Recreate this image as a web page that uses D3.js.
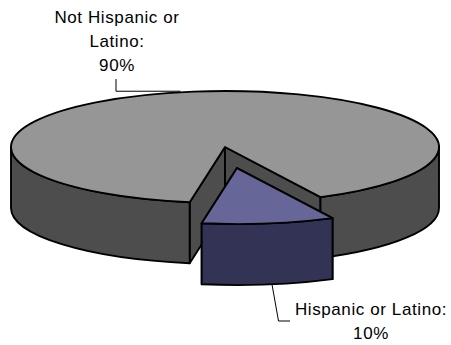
<!DOCTYPE html>
<html>
<head>
<meta charset="utf-8">
<script src="https://cdn.jsdelivr.net/npm/d3@7"></script>
<style>
  html, body { margin: 0; padding: 0; background: #fff; }
  svg { display: block; }
  text { font-family: Arial, "Liberation Sans", sans-serif; font-size: 17px; letter-spacing: 0.6px; fill: #000; }
</style>
</head>
<body>
<svg id="chart" width="451" height="345"></svg>
<script>
// ---- data ----
const categories = ["Hispanic or Latino", "Not Hispanic or Latino"];
const values = [10, 90];
const labelLines = [["Hispanic or Latino:", "10%"], ["Not Hispanic or", "Latino:", "90%"]];
const topColors = ["#666699", "#969696"];
const sideColors = ["#333355", "#4d4d4d"];
const explodeFrac = [0.38, 0];

// ---- layout ----
const W = 451, H = 345;
const cx = 225, cy = 147, rx = 214, ry = 56, depth = 61;
const rotation = 153.5 * Math.PI / 180; // pie start angle (from 12 o'clock)

const svg = d3.select("#chart");
const pie = d3.pie().sort(null).value(d => d.value)
  .startAngle(rotation).endAngle(rotation + 2 * Math.PI);
const data = categories.map((c, i) => ({ name: c, value: values[i], i }));
const arcs = pie(data);

function P(ox, oy, t, dz = 0) { return [ox + rx * Math.cos(t), oy + ry * Math.sin(t) + dz]; }

function topPath(ox, oy, t0, t1) {
  const p = d3.path();
  const a = P(ox, oy, t0), b = P(ox, oy, t1);
  p.moveTo(ox, oy); p.lineTo(a[0], a[1]);
  const large = (t1 - t0) > Math.PI ? 1 : 0;
  return p.toString() + `A${rx},${ry} 0 ${large} 1 ${b[0]},${b[1]}Z`;
}
function wallPath(ox, oy, a, b) {
  const A = P(ox, oy, a), B = P(ox, oy, b), Bd = P(ox, oy, b, depth), Ad = P(ox, oy, a, depth);
  const large = (b - a) > Math.PI ? 1 : 0;
  return `M${A[0]},${A[1]}A${rx},${ry} 0 ${large} 1 ${B[0]},${B[1]}L${Bd[0]},${Bd[1]}` +
         `A${rx},${ry} 0 ${large} 0 ${Ad[0]},${Ad[1]}Z`;
}
function facePath(ox, oy, t) {
  const p = P(ox, oy, t), pd = P(ox, oy, t, depth);
  return `M${ox},${oy}L${p[0]},${p[1]}L${pd[0]},${pd[1]}L${ox},${oy + depth}Z`;
}
function visibleIntervals(t0, t1) {
  const out = [];
  for (let k = -2; k <= 2; k++) {
    const lo = Math.max(t0, 2 * k * Math.PI), hi = Math.min(t1, 2 * k * Math.PI + Math.PI);
    if (hi > lo) out.push([lo, hi]);
  }
  return out;
}

const slices = arcs.map(d => {
  const t0 = d.startAngle - Math.PI / 2, t1 = d.endAngle - Math.PI / 2;
  const m = (t0 + t1) / 2, k = explodeFrac[d.data.i];
  return { d, t0, t1, ox: cx + k * rx * Math.cos(m), oy: cy + k * ry * Math.sin(m) };
});
// draw non-exploded first, exploded last
const order = slices.slice().sort((a, b) => explodeFrac[a.d.data.i] - explodeFrac[b.d.data.i]);

const stroke = "#000", sw = 1.9;
order.forEach(s => {
  const i = s.d.data.i;
  const g = svg.append("g");
  [s.t0, s.t1].forEach(t => {
    g.append("path").attr("d", facePath(s.ox, s.oy, t))
      .attr("fill", sideColors[i]).attr("stroke", stroke).attr("stroke-width", sw).attr("stroke-linejoin", "round");
  });
  visibleIntervals(s.t0, s.t1).forEach(([a, b]) => {
    g.append("path").attr("d", wallPath(s.ox, s.oy, a, b))
      .attr("fill", sideColors[i]).attr("stroke", stroke).attr("stroke-width", sw).attr("stroke-linejoin", "round");
  });
  g.append("path").attr("d", topPath(s.ox, s.oy, s.t0, s.t1))
    .attr("fill", topColors[i]).attr("stroke", stroke).attr("stroke-width", sw).attr("stroke-linejoin", "round");
});

// ---- labels ----
const mainS = slices[1], hisS = slices[0];
// Not Hispanic label (above)
const lab1 = { x: 117, y: 22.5 };
svg.append("text").attr("x", lab1.x).attr("y", lab1.y).attr("text-anchor", "middle")
  .selectAll("tspan").data(labelLines[1]).join("tspan")
  .attr("x", lab1.x).attr("dy", (d, j) => j === 0 ? 0 : 24).text(d => d);
const a1 = P(mainS.ox, mainS.oy, -102 * Math.PI / 180);
svg.append("path").attr("d", `M116,79L116,${a1[1] - 1}L${a1[0]},${a1[1] - 1}`)
  .attr("fill", "none").attr("stroke", "#000").attr("stroke-width", 1);

// Hispanic label (below right)
const lab2 = { x: 371, y: 315 };
svg.append("text").attr("x", lab2.x).attr("y", lab2.y).attr("text-anchor", "middle")
  .selectAll("tspan").data(labelLines[0]).join("tspan")
  .attr("x", lab2.x).attr("dy", (d, j) => j === 0 ? 0 : 24).text(d => d);
const a2 = P(hisS.ox, hisS.oy, 80.6 * Math.PI / 180, depth);
svg.append("path").attr("d", `M${a2[0]},${a2[1]}L278.5,321L290,321`)
  .attr("fill", "none").attr("stroke", "#000").attr("stroke-width", 1);
</script>
</body>
</html>
